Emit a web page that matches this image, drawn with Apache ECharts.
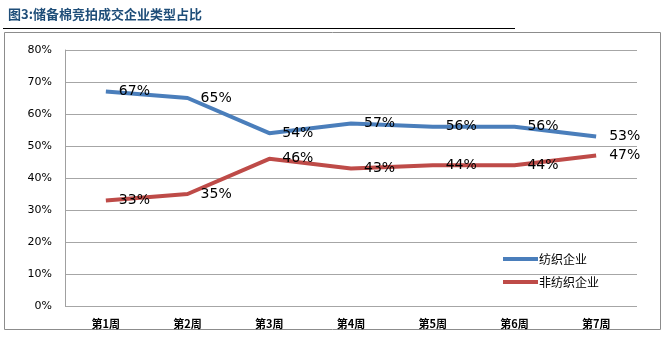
<!DOCTYPE html>
<html><head><meta charset="utf-8">
<script src="https://cdn.jsdelivr.net/npm/echarts@6/dist/echarts.min.js"></script>
<style>html,body{margin:0;padding:0;background:#fff}#c{width:665px;height:343px}</style>
</head><body><div id="c"></div>
<script>
const categories = ['第1周','第2周','第3周','第4周','第5周','第6周','第7周'];
const textile = [67,65,54,57,56,56,53];
const nonTextile = [33,35,46,43,44,44,47];
const yTicks = [0,10,20,30,40,50,60,70,80];
const seriesNames = ['纺织企业','非纺织企业'];

const chart = echarts.init(document.getElementById('c'), null, {renderer:'canvas'});
const lbl = {show:true, position:'right', distance:13, formatter:p=>p.value+'%', color:'#000', fontSize:14, fontFamily:'DejaVu Sans'};
chart.setOption({
  animation:false,
  title:{text:'图3:储备棉竞拍成交企业类型占比', left:3, top:3, textStyle:{fontSize:13, fontWeight:'bold', color:'#1F4E79', fontFamily:'Noto Sans CJK SC'}},
  graphic:[
    {type:'line', shape:{x1:3,y1:28.5,x2:515,y2:28.5}, style:{stroke:'#000', lineWidth:1}},
    {type:'rect', shape:{x:4.5,y:32.5,width:656,height:297}, style:{fill:'none', stroke:'#8c8c8c', lineWidth:1}}
  ],
  grid:{left:65, right:28, top:50, bottom:37},
  legend:{orient:'vertical', left:498, top:248, itemGap:11, itemWidth:35, itemHeight:4, icon:'rect',
    textStyle:{fontSize:12, color:'#000', fontFamily:'Noto Sans CJK SC', padding:[0,0,0,-4]}, data:seriesNames},
  xAxis:{type:'category', data:categories, boundaryGap:true,
    axisLine:{show:false}, axisTick:{show:false},
    axisLabel:{fontSize:11, color:'#000', margin:12, fontFamily:'Noto Sans CJK SC', fontWeight:'bold'}},
  yAxis:{type:'value', min:0, max:80, interval:10,
    axisLine:{show:true, lineStyle:{color:'#a0a0a0'}}, axisTick:{show:false},
    splitLine:{lineStyle:{color:'#a6a6a6', width:1}},
    axisLabel:{formatter:v=>yTicks.includes(v)?v+'%':'', fontSize:11, color:'#000', margin:13, fontFamily:'DejaVu Sans'}},
  series:[
    {name:seriesNames[0], type:'line', data:textile, symbol:'circle', symbolSize:0, showSymbol:true, z:2, lineStyle:{color:'#4A7EBB', width:4}, itemStyle:{color:'#4A7EBB'}, label:lbl, labelLayout:{hideOverlap:false}},
    {name:seriesNames[1], type:'line', data:nonTextile, symbol:'circle', symbolSize:0, showSymbol:true, z:2, lineStyle:{color:'#BE4B48', width:4}, itemStyle:{color:'#BE4B48'}, label:lbl, labelLayout:{hideOverlap:false}}
  ]
});
</script></body></html>
